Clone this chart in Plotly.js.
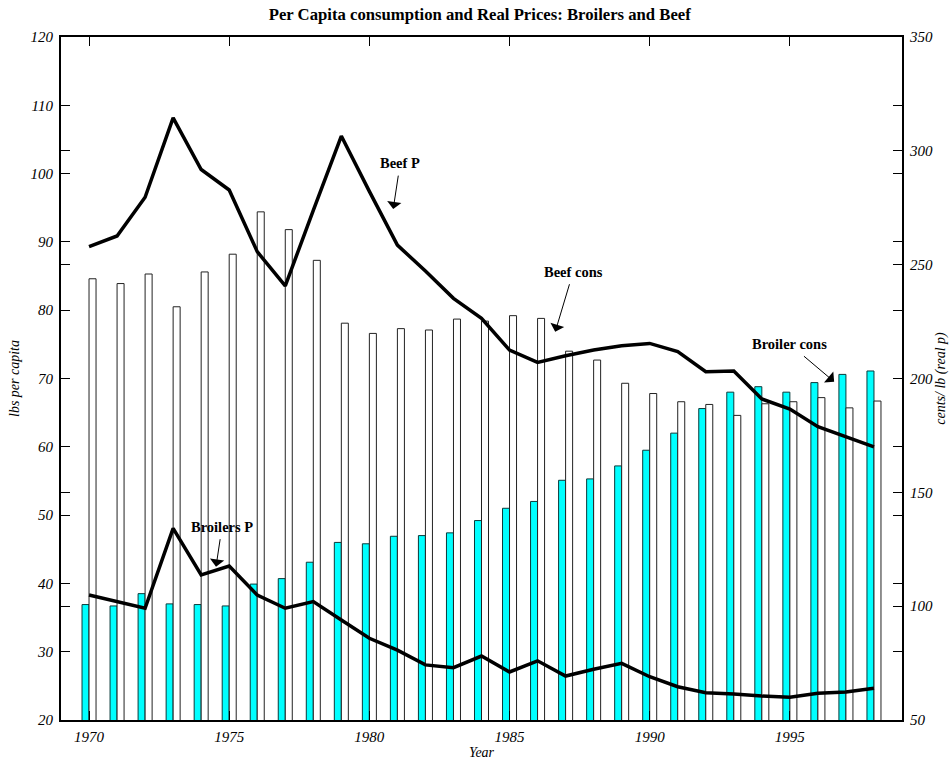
<!DOCTYPE html>
<html>
<head>
<meta charset="utf-8">
<script src="https://cdn.plot.ly/plotly-3.0.1.min.js"></script>
<style>
  html, body { margin: 0; padding: 0; background: #ffffff; }
  #chart { width: 951px; height: 760px; }
</style>
</head>
<body>
<div id="chart"></div>
<script>
// ---- data ----
const years = [1970,1971,1972,1973,1974,1975,1976,1977,1978,1979,1980,1981,1982,1983,1984,1985,1986,1987,1988,1989,1990,1991,1992,1993,1994,1995,1996,1997,1998];
// per capita consumption, lbs (left axis)
const broilerCons = [36.9,36.7,38.5,37.0,36.9,36.7,39.9,40.7,43.1,46.0,45.8,46.9,47.0,47.4,49.2,51.0,52.0,55.1,55.3,57.2,59.5,62.0,65.6,68.0,68.8,68.0,69.4,70.6,71.1];
const beefCons    = [84.6,83.9,85.3,80.5,85.6,88.2,94.4,91.8,87.3,78.1,76.6,77.3,77.1,78.7,78.4,79.2,78.8,74.0,72.7,69.3,67.8,66.6,66.2,64.6,66.3,66.6,67.2,65.7,66.7];
// real prices, cents/lb (right axis)
const beefPrice    = [257.9,262.6,279.6,314.5,291.8,282.8,255.7,240.7,273.8,306.5,282.2,258.6,247.2,235.2,226.4,212.5,207.1,210.0,212.5,214.4,215.4,211.8,203.0,203.3,191.0,186.6,178.8,174.4,170.0];
const broilerPrice = [104.9,102.0,99.1,134.2,113.7,117.6,104.9,99.1,102.0,93.9,85.9,80.7,74.2,73.0,78.1,71.1,76.0,69.3,72.3,74.9,69.0,64.6,62.0,61.4,60.5,60.0,61.7,62.3,63.9];
const xTicks = [1970,1975,1980,1985,1990,1995];
const leftTicks = [20,30,40,50,60,70,80,90,100,110,120];
const rightTicks = [50,100,150,200,250,300,350];

const serif = '"Liberation Serif", "Times New Roman", Times, serif';
const it = v => '<i>' + v + '</i>';

const traces = [
  { type: 'bar', name: 'Broiler cons', x: years, y: broilerCons, yaxis: 'y',
    marker: { color: '#00FFFF', line: { color: '#0a3a3a', width: 1 } }, hoverinfo: 'skip' },
  { type: 'bar', name: 'Beef cons', x: years, y: beefCons, yaxis: 'y',
    marker: { color: '#FFFFFF', line: { color: '#222222', width: 1 } }, hoverinfo: 'skip' },
  { type: 'scatter', mode: 'lines', name: 'Beef P', x: years, y: beefPrice, yaxis: 'y2',
    line: { color: '#000000', width: 3.5 } },
  { type: 'scatter', mode: 'lines', name: 'Broilers P', x: years, y: broilerPrice, yaxis: 'y2',
    line: { color: '#000000', width: 3.5 } }
];

const tickFont = { family: serif, size: 15, style: 'italic', color: '#000' };
const annFont = { family: serif, size: 14.5, weight: 700, color: '#000' };

function ann(text, x, y, ax, ay) {
  return { text: text, x: x, y: y, xref: 'x', yref: 'y', ax: ax, ay: ay,
    showarrow: true, arrowhead: 1, arrowsize: 2.4, arrowwidth: 1, arrowcolor: '#000',
    borderpad: 4, font: annFont };
}

const layout = {
  width: 951, height: 760,
  margin: { l: 61, r: 49, t: 37, b: 40 },
  paper_bgcolor: '#ffffff', plot_bgcolor: '#ffffff',
  showlegend: false,
  barmode: 'group', bargap: 0.5, bargroupgap: 0,
  title: { text: 'Per Capita consumption and Real Prices: Broilers and Beef',
    font: { family: serif, size: 16.7, weight: 700, color: '#000' },
    x: 0.5045, xanchor: 'center', y: 0.982, yanchor: 'middle' },
  xaxis: {
    range: [1969, 1999], tickvals: xTicks, ticktext: xTicks.map(it),
    ticks: 'inside', ticklen: 9, tickwidth: 1, tickcolor: '#000',
    showline: true, linecolor: '#000', linewidth: 2, mirror: 'ticks',
    showgrid: false, zeroline: false, tickfont: tickFont, ticklabelstandoff: 2,
    title: { text: '<i>Year</i>', font: { family: serif, size: 14, style: 'italic', color: '#000' }, standoff: 4 }
  },
  yaxis: {
    range: [20, 120], tickvals: leftTicks, ticktext: leftTicks.map(it),
    ticks: 'inside', ticklen: 9, tickwidth: 1, tickcolor: '#000',
    showline: true, linecolor: '#000', linewidth: 2, mirror: 'ticks',
    showgrid: false, zeroline: false, tickfont: tickFont, ticklabelstandoff: 3,
    title: { text: '<i>lbs per capita</i>', font: { family: serif, size: 14, style: 'italic', color: '#000' }, standoff: 8 }
  },
  yaxis2: {
    range: [50, 350], tickvals: rightTicks, ticktext: rightTicks.map(it), overlaying: 'y', side: 'right',
    ticks: 'inside', ticklen: 9, tickwidth: 1, tickcolor: '#000',
    showline: true, linecolor: '#000', linewidth: 2, mirror: 'ticks',
    showgrid: false, zeroline: false, tickfont: tickFont, ticklabelstandoff: 3,
    title: { text: '<i>cents/ lb (real p)</i>', font: { family: serif, size: 14, style: 'italic', color: '#000' }, standoff: 0 }
  },
  annotations: [
    ann('Beef P', 1980.85, 94.8, 7, -46),
    ann('Beef cons', 1986.63, 76.85, 18, -60),
    ann('Broiler cons', 1996.58, 69.53, -45, -38),
    ann('Broilers P', 1974.53, 42.45, 6, -40)
  ]
};

Plotly.newPlot('chart', traces, layout, { staticPlot: true, displayModeBar: false });
</script>
</body>
</html>
